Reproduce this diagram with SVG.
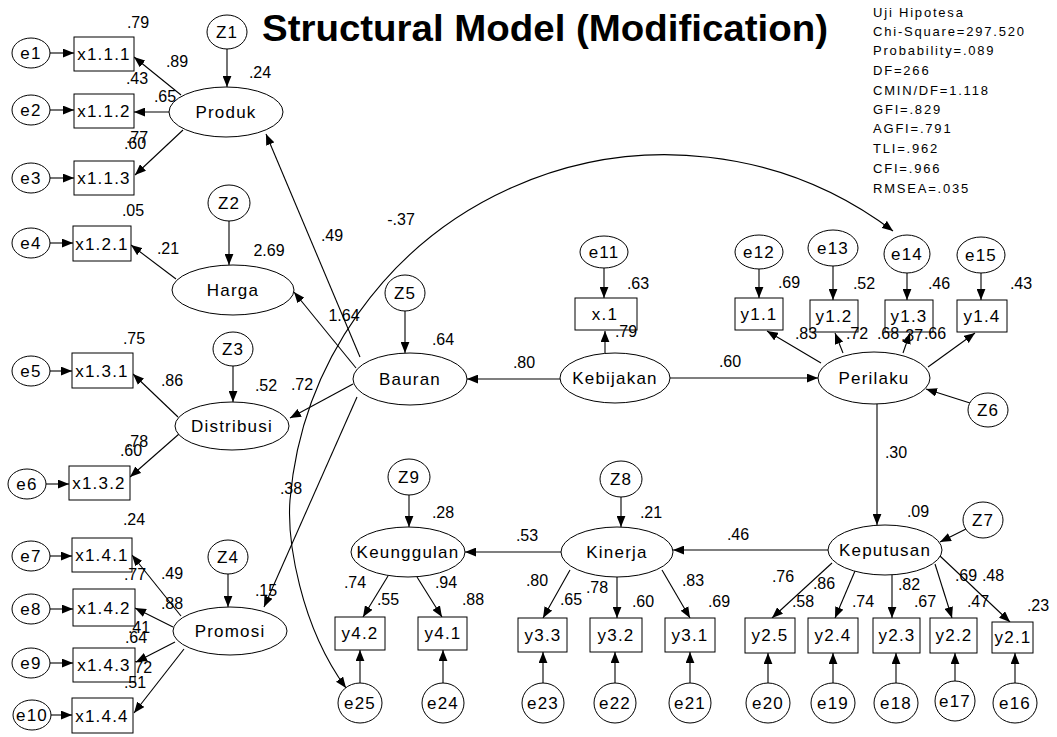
<svg xmlns="http://www.w3.org/2000/svg" width="1057" height="737" viewBox="0 0 1057 737">
<defs>
<marker id="ah" viewBox="0 0 10 8" refX="10" refY="4" markerWidth="11" markerHeight="9" markerUnits="userSpaceOnUse" orient="auto-start-reverse">
<path d="M0,0 L10,4 L0,8 z" fill="#000"/>
</marker>
<style>
.n ellipse,.n rect{fill:#fff;stroke:#000;stroke-width:1}
.n text{font-family:"Liberation Sans",Arial,sans-serif;font-size:17px;letter-spacing:1.2px;text-anchor:middle;fill:#000}
.c line,.c path{stroke:#000;stroke-width:1.1;fill:none;marker-end:url(#ah)}
.lb text{font-family:"Liberation Sans",Arial,sans-serif;font-size:16px;text-anchor:middle;fill:#000}
.fit text{font-family:"Liberation Sans",Arial,sans-serif;font-size:13px;letter-spacing:1.8px;fill:#000}
</style>
</defs>
<rect width="1057" height="737" fill="#fff"/>

<text x="262" y="41" font-family="Liberation Sans,Arial,sans-serif" font-weight="bold" font-size="37" textLength="566" lengthAdjust="spacingAndGlyphs">Structural Model (Modification)</text>

<g class="fit">
<text x="873" y="17">Uji Hipotesa</text>
<text x="873" y="36">Chi-Square=297.520</text>
<text x="873" y="55">Probability=.089</text>
<text x="873" y="75">DF=266</text>
<text x="873" y="95">CMIN/DF=1.118</text>
<text x="873" y="114">GFI=.829</text>
<text x="873" y="133">AGFI=.791</text>
<text x="873" y="153">TLI=.962</text>
<text x="873" y="173">CFI=.966</text>
<text x="873" y="193">RMSEA=.035</text>
</g>

<!-- connectors -->
<g id="connectors" class="c">
<!-- error terms into the left indicators -->
<line x1="50" y1="53" x2="74" y2="53"/>
<line x1="50" y1="110" x2="74" y2="110"/>
<line x1="50" y1="178" x2="74" y2="178"/>
<line x1="50" y1="243" x2="73" y2="243"/>
<line x1="50" y1="371" x2="72" y2="371"/>
<line x1="46" y1="484" x2="69" y2="484"/>
<line x1="50" y1="556" x2="72" y2="556"/>
<line x1="50" y1="609" x2="73" y2="609"/>
<line x1="50" y1="663" x2="73" y2="663"/>
<line x1="50" y1="715" x2="72" y2="715"/>
<!-- loadings of the left latents -->
<line x1="181" y1="95" x2="134" y2="57"/>
<line x1="169" y1="112" x2="134" y2="112"/>
<line x1="183" y1="130" x2="135" y2="175"/>
<line x1="176" y1="279" x2="131" y2="245"/>
<line x1="178" y1="417" x2="133" y2="374"/>
<line x1="179" y1="434" x2="130" y2="477"/>
<line x1="181" y1="616" x2="132" y2="555"/>
<line x1="173" y1="627" x2="135" y2="608"/>
<line x1="175" y1="642" x2="136" y2="662"/>
<line x1="184" y1="649" x2="134" y2="713"/>
<!-- disturbances -->
<line x1="227" y1="49" x2="227" y2="87"/>
<line x1="229" y1="221" x2="229" y2="265"/>
<line x1="233" y1="366" x2="233" y2="402"/>
<line x1="228" y1="574" x2="228" y2="607"/>
<line x1="405" y1="311" x2="405" y2="353"/>
<line x1="409" y1="494" x2="409" y2="527"/>
<line x1="621" y1="496" x2="621" y2="527"/>
<line x1="970" y1="403" x2="926" y2="389"/>
<line x1="966" y1="529" x2="940" y2="542"/>
<!-- structural paths -->
<line x1="360" y1="357" x2="266" y2="134"/>
<line x1="356" y1="368" x2="294" y2="292"/>
<line x1="353" y1="384" x2="290" y2="418"/>
<line x1="357" y1="397" x2="264" y2="607"/>
<line x1="560" y1="379" x2="467" y2="379"/>
<line x1="605" y1="353" x2="605" y2="331"/>
<line x1="670" y1="378" x2="818" y2="378"/>
<line x1="877" y1="404" x2="877" y2="525"/>
<line x1="828" y1="550" x2="673" y2="550"/>
<line x1="561" y1="552" x2="465" y2="552"/>
<!-- Perilaku indicators -->
<line x1="604" y1="268" x2="604" y2="298"/>
<line x1="759" y1="269" x2="759" y2="298"/>
<line x1="833" y1="265" x2="833" y2="300"/>
<line x1="907" y1="273" x2="907" y2="300"/>
<line x1="981" y1="272" x2="981" y2="300"/>
<line x1="821" y1="363" x2="767" y2="331"/>
<line x1="843" y1="353" x2="835" y2="333"/>
<line x1="903" y1="353" x2="910" y2="333"/>
<line x1="928" y1="367" x2="975" y2="333"/>
<!-- Keputusan / Kinerja / Keunggulan indicators -->
<line x1="832" y1="563" x2="772" y2="618"/>
<line x1="855" y1="571" x2="835" y2="618"/>
<line x1="892" y1="575" x2="892" y2="618"/>
<line x1="935" y1="564" x2="952" y2="618"/>
<line x1="940" y1="556" x2="1010" y2="622"/>
<line x1="570" y1="570" x2="543" y2="618"/>
<line x1="617" y1="577" x2="617" y2="618"/>
<line x1="662" y1="570" x2="690" y2="618"/>
<line x1="388" y1="576" x2="363" y2="617"/>
<line x1="417" y1="577" x2="442" y2="617"/>
<line x1="360" y1="683" x2="360" y2="650"/>
<line x1="443" y1="683" x2="443" y2="650"/>
<line x1="543" y1="683" x2="543" y2="652"/>
<line x1="615" y1="683" x2="615" y2="652"/>
<line x1="690" y1="683" x2="690" y2="652"/>
<line x1="768" y1="683" x2="768" y2="653"/>
<line x1="833" y1="683" x2="833" y2="653"/>
<line x1="896" y1="683" x2="896" y2="653"/>
<line x1="955" y1="681" x2="955" y2="653"/>
<line x1="1015" y1="683" x2="1015" y2="653"/>
<!-- covariance e14 - e25 -->
<path d="M893,231 A377,377 0 0 0 290,500 C287,540 300,625 346,688" style="marker-start:url(#ah)"/>
</g>

<!-- labels partly hidden behind the indicator boxes -->
<g class="lb">
<text x="139" y="633">.41</text>
<text x="141" y="673">.72</text>
</g>

<!-- nodes -->
<g id="e1" class="n"><ellipse cx="31" cy="53" rx="19" ry="15"/><text x="31" y="59">e1</text></g>
<g id="e2" class="n"><ellipse cx="31" cy="110" rx="19" ry="15"/><text x="31" y="116">e2</text></g>
<g id="e3" class="n"><ellipse cx="31" cy="178" rx="19" ry="15"/><text x="31" y="184">e3</text></g>
<g id="e4" class="n"><ellipse cx="31" cy="243" rx="19" ry="15"/><text x="31" y="249">e4</text></g>
<g id="e5" class="n"><ellipse cx="31" cy="371" rx="19" ry="15"/><text x="31" y="377">e5</text></g>
<g id="e6" class="n"><ellipse cx="27" cy="484" rx="19" ry="15"/><text x="27" y="490">e6</text></g>
<g id="e7" class="n"><ellipse cx="31" cy="556" rx="19" ry="15"/><text x="31" y="562">e7</text></g>
<g id="e8" class="n"><ellipse cx="31" cy="609" rx="19" ry="15"/><text x="31" y="615">e8</text></g>
<g id="e9" class="n"><ellipse cx="31" cy="663" rx="19" ry="15"/><text x="31" y="669">e9</text></g>
<g id="e10" class="n"><ellipse cx="32" cy="715" rx="19" ry="15"/><text x="32" y="721">e10</text></g>

<g id="x111" class="n"><rect x="74" y="37" width="60" height="34"/><text x="104" y="60">x1.1.1</text></g>
<g id="x112" class="n"><rect x="74" y="94" width="60" height="34"/><text x="104" y="117">x1.1.2</text></g>
<g id="x113" class="n"><rect x="74" y="161" width="60" height="34"/><text x="104" y="184">x1.1.3</text></g>
<g id="x121" class="n"><rect x="73" y="226" width="58" height="35"/><text x="102" y="250">x1.2.1</text></g>
<g id="x131" class="n"><rect x="72" y="353" width="61" height="35"/><text x="102" y="377">x1.3.1</text></g>
<g id="x132" class="n"><rect x="69" y="466" width="61" height="34"/><text x="99" y="489">x1.3.2</text></g>
<g id="x141" class="n"><rect x="72" y="538" width="60" height="34"/><text x="102" y="561">x1.4.1</text></g>
<g id="x142" class="n"><rect x="73" y="589" width="62" height="37"/><text x="104" y="614">x1.4.2</text></g>
<g id="x143" class="n"><rect x="73" y="648" width="62" height="34"/><text x="104" y="671">x1.4.3</text></g>
<g id="x144" class="n"><rect x="72" y="698" width="61" height="35"/><text x="102" y="722">x1.4.4</text></g>

<g id="Z1" class="n"><ellipse cx="227" cy="32" rx="20" ry="17"/><text x="227" y="38">Z1</text></g>
<g id="Z2" class="n"><ellipse cx="229" cy="203" rx="21" ry="18"/><text x="229" y="209">Z2</text></g>
<g id="Z3" class="n"><ellipse cx="233" cy="349" rx="20" ry="17"/><text x="233" y="355">Z3</text></g>
<g id="Z4" class="n"><ellipse cx="228" cy="557" rx="20" ry="17"/><text x="228" y="563">Z4</text></g>
<g id="Z5" class="n"><ellipse cx="405" cy="293" rx="20" ry="18"/><text x="405" y="299">Z5</text></g>
<g id="Z6" class="n"><ellipse cx="988" cy="410" rx="20" ry="17"/><text x="988" y="416">Z6</text></g>
<g id="Z7" class="n"><ellipse cx="983" cy="520" rx="20" ry="18"/><text x="983" y="526">Z7</text></g>
<g id="Z8" class="n"><ellipse cx="621" cy="479" rx="21" ry="18"/><text x="621" y="485">Z8</text></g>
<g id="Z9" class="n"><ellipse cx="409" cy="477" rx="21" ry="18"/><text x="409" y="483">Z9</text></g>

<g id="Produk" class="n"><ellipse cx="226" cy="112" rx="57" ry="25"/><text x="226" y="118">Produk</text></g>
<g id="Harga" class="n"><ellipse cx="233" cy="290" rx="61" ry="25"/><text x="233" y="296">Harga</text></g>
<g id="Distribusi" class="n"><ellipse cx="232" cy="426" rx="57" ry="24"/><text x="232" y="432">Distribusi</text></g>
<g id="Promosi" class="n"><ellipse cx="230" cy="631" rx="57" ry="24"/><text x="230" y="637">Promosi</text></g>
<g id="Bauran" class="n"><ellipse cx="410" cy="379" rx="57" ry="26"/><text x="410" y="385">Bauran</text></g>
<g id="Kebijakan" class="n"><ellipse cx="615" cy="378" rx="55" ry="25"/><text x="615" y="384">Kebijakan</text></g>
<g id="Perilaku" class="n"><ellipse cx="874" cy="378" rx="56" ry="26"/><text x="874" y="384">Perilaku</text></g>
<g id="Keputusan" class="n"><ellipse cx="885" cy="550" rx="57" ry="25"/><text x="885" y="556">Keputusan</text></g>
<g id="Kinerja" class="n"><ellipse cx="617" cy="552" rx="56" ry="25"/><text x="617" y="558">Kinerja</text></g>
<g id="Keunggulan" class="n"><ellipse cx="408" cy="552" rx="57" ry="25"/><text x="408" y="558">Keunggulan</text></g>

<g id="e11" class="n"><ellipse cx="604" cy="252" rx="24" ry="16"/><text x="604" y="258">e11</text></g>
<g id="e12" class="n"><ellipse cx="759" cy="252" rx="24" ry="17"/><text x="759" y="258">e12</text></g>
<g id="e13" class="n"><ellipse cx="833" cy="248" rx="25" ry="18"/><text x="833" y="254">e13</text></g>
<g id="e14" class="n"><ellipse cx="907" cy="254" rx="23" ry="19"/><text x="907" y="260">e14</text></g>
<g id="e15" class="n"><ellipse cx="981" cy="255" rx="24" ry="18"/><text x="981" y="261">e15</text></g>
<g id="x1" class="n"><rect x="575" y="298" width="62" height="32"/><text x="605" y="320">x.1</text></g>
<g id="y11" class="n"><rect x="735" y="298" width="48" height="32"/><text x="759" y="320">y1.1</text></g>
<g id="y12" class="n"><rect x="810" y="300" width="48" height="32"/><text x="834" y="322">y1.2</text></g>
<g id="y13" class="n"><rect x="885" y="300" width="48" height="32"/><text x="909" y="322">y1.3</text></g>
<g id="y14" class="n"><rect x="957" y="300" width="50" height="32"/><text x="982" y="322">y1.4</text></g>

<g id="y42" class="n"><rect x="335" y="617" width="50" height="33"/><text x="360" y="639">y4.2</text></g>
<g id="y41" class="n"><rect x="418" y="617" width="49" height="33"/><text x="443" y="639">y4.1</text></g>
<g id="y33" class="n"><rect x="518" y="618" width="49" height="34"/><text x="543" y="641">y3.3</text></g>
<g id="y32" class="n"><rect x="590" y="618" width="52" height="34"/><text x="616" y="641">y3.2</text></g>
<g id="y31" class="n"><rect x="665" y="618" width="50" height="34"/><text x="690" y="641">y3.1</text></g>
<g id="y25" class="n"><rect x="745" y="618" width="50" height="35"/><text x="770" y="641">y2.5</text></g>
<g id="y24" class="n"><rect x="808" y="618" width="50" height="35"/><text x="833" y="641">y2.4</text></g>
<g id="y23" class="n"><rect x="873" y="618" width="47" height="35"/><text x="897" y="641">y2.3</text></g>
<g id="y22" class="n"><rect x="930" y="618" width="47" height="35"/><text x="954" y="641">y2.2</text></g>
<g id="y21" class="n"><rect x="992" y="622" width="41" height="31"/><text x="1013" y="643">y2.1</text></g>

<g id="e25" class="n"><ellipse cx="360" cy="703" rx="22" ry="20"/><text x="360" y="709">e25</text></g>
<g id="e24" class="n"><ellipse cx="443" cy="703" rx="21" ry="20"/><text x="443" y="709">e24</text></g>
<g id="e23" class="n"><ellipse cx="543" cy="703" rx="21" ry="20"/><text x="543" y="709">e23</text></g>
<g id="e22" class="n"><ellipse cx="615" cy="703" rx="21" ry="20"/><text x="615" y="709">e22</text></g>
<g id="e21" class="n"><ellipse cx="690" cy="703" rx="21" ry="20"/><text x="690" y="709">e21</text></g>
<g id="e20" class="n"><ellipse cx="768" cy="703" rx="22" ry="20"/><text x="768" y="709">e20</text></g>
<g id="e19" class="n"><ellipse cx="833" cy="703" rx="22" ry="20"/><text x="833" y="709">e19</text></g>
<g id="e18" class="n"><ellipse cx="896" cy="703" rx="22" ry="20"/><text x="896" y="709">e18</text></g>
<g id="e17" class="n"><ellipse cx="955" cy="701" rx="20" ry="20"/><text x="955" y="707">e17</text></g>
<g id="e16" class="n"><ellipse cx="1015" cy="703" rx="22" ry="20"/><text x="1015" y="709">e16</text></g>

<!-- estimates -->
<g class="lb">
<text x="138" y="28">.79</text>
<text x="177" y="67">.89</text>
<text x="137" y="84">.43</text>
<text x="165" y="102">.65</text>
<text x="137" y="143">.77</text>
<text x="135" y="149">.60</text>
<text x="260" y="78">.24</text>
<text x="133" y="216">.05</text>
<text x="168" y="254">.21</text>
<text x="269" y="256">2.69</text>
<text x="134" y="344">.75</text>
<text x="172" y="386">.86</text>
<text x="266" y="391">.52</text>
<text x="302" y="390">.72</text>
<text x="137" y="447">.78</text>
<text x="131" y="456">.60</text>
<text x="134" y="525">.24</text>
<text x="135" y="580">.77</text>
<text x="172" y="579">.49</text>
<text x="172" y="609">.88</text>
<text x="136" y="643">.64</text>
<text x="135" y="688">.51</text>
<text x="266" y="596">.15</text>
<text x="291" y="494">.38</text>
<text x="332" y="241">.49</text>
<text x="401" y="225">-.37</text>
<text x="344" y="321">1.64</text>
<text x="443" y="345">.64</text>
<text x="524" y="368">.80</text>
<text x="638" y="289">.63</text>
<text x="626" y="337">.79</text>
<text x="730" y="367">.60</text>
<text x="789" y="288">.69</text>
<text x="864" y="289">.52</text>
<text x="939" y="289">.46</text>
<text x="1021" y="289">.43</text>
<text x="806" y="339">.83</text>
<text x="857" y="339">.72</text>
<text x="912" y="341">.37</text>
<text x="888" y="339">.68</text>
<text x="935" y="339">.66</text>
<text x="443" y="518">.28</text>
<text x="527" y="541">.53</text>
<text x="651" y="518">.21</text>
<text x="355" y="588">.74</text>
<text x="388" y="605">.55</text>
<text x="446" y="588">.94</text>
<text x="473" y="605">.88</text>
<text x="537" y="586">.80</text>
<text x="571" y="605">.65</text>
<text x="597" y="593">.78</text>
<text x="643" y="607">.60</text>
<text x="693" y="586">.83</text>
<text x="719" y="607">.69</text>
<text x="896" y="458">.30</text>
<text x="918" y="517">.09</text>
<text x="738" y="540">.46</text>
<text x="783" y="582">.76</text>
<text x="824" y="589">.86</text>
<text x="803" y="607">.58</text>
<text x="863" y="607">.74</text>
<text x="909" y="590">.82</text>
<text x="925" y="607">.67</text>
<text x="966" y="581">.69</text>
<text x="993" y="581">.48</text>
<text x="978" y="607">.47</text>
<text x="1038" y="611">.23</text>
</g>
</svg>
